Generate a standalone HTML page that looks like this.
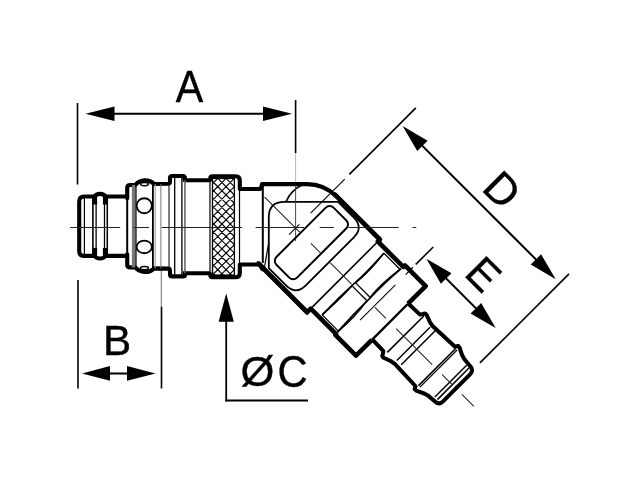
<!DOCTYPE html>
<html><head><meta charset="utf-8"><style>html,body{margin:0;padding:0;background:#fff;}svg{display:block} text{-webkit-font-smoothing:antialiased}</style></head>
<body><svg style="will-change:transform" width="640" height="480" viewBox="0 0 640 480">
<rect width="640" height="480" fill="#fff"/>
<line x1="77.5" y1="103" x2="77.5" y2="184.5" stroke="#000" stroke-width="1.6"/>
<line x1="295.6" y1="100" x2="295.6" y2="153" stroke="#000" stroke-width="1.6"/>
<line x1="95" y1="113.8" x2="282" y2="113.8" stroke="#000" stroke-width="2"/>
<path d="M85.50,113.80 L114.50,121.10 L114.50,106.50 Z" fill="#000"/>
<path d="M292.00,113.80 L263.00,106.50 L263.00,121.10 Z" fill="#000"/>
<text transform="translate(175.8,101.9) scale(0.935,0.995)" font-family="Liberation Sans" font-size="44" stroke="#000" stroke-width="0.4">A</text>
<line x1="78" y1="280" x2="78" y2="388.5" stroke="#000" stroke-width="1.6"/>
<line x1="161.5" y1="306.5" x2="161.5" y2="388.5" stroke="#000" stroke-width="1.6"/>
<line x1="161.3" y1="268" x2="161.3" y2="306" stroke="#444" stroke-width="0.8"/>
<line x1="95" y1="373.4" x2="140" y2="373.4" stroke="#000" stroke-width="2"/>
<path d="M82.00,373.40 L110.00,380.70 L110.00,366.10 Z" fill="#000"/>
<path d="M155.50,373.40 L127.00,366.10 L127.00,380.70 Z" fill="#000"/>
<text transform="translate(102.9,355.0) scale(0.96,0.97)" font-family="Liberation Sans" font-size="44" stroke="#000" stroke-width="0.4">B</text>
<line x1="226.2" y1="310" x2="226.2" y2="401.4" stroke="#000" stroke-width="1.8"/>
<line x1="225.3" y1="400.5" x2="308" y2="400.5" stroke="#000" stroke-width="1.8"/>
<path d="M226.20,293.40 L218.60,321.80 L233.80,321.80 Z" fill="#000"/>
<text transform="translate(240.5,386.3) scale(0.99,0.965)" font-family="Liberation Sans" font-size="44" stroke="#000" stroke-width="0.4">Ø</text>
<text transform="translate(277.6,386.9) scale(0.95,1)" font-family="Liberation Sans" font-size="44" stroke="#000" stroke-width="0.4">C</text>
<path d="M79.2,226.2 L79.2,201.5 Q79.2,196.5 84.2,196.5 L94.5,196.5 M106,196.5 L127.2,196.5" fill="none" stroke="#000" stroke-width="4.1" stroke-linejoin="round" stroke-linecap="round"/>
<g transform="matrix(1,0,0,-1,0,452.4)"><path d="M79.2,226.2 L79.2,201.5 Q79.2,196.5 84.2,196.5 L94.5,196.5 M106,196.5 L127.2,196.5" fill="none" stroke="#000" stroke-width="4.1" stroke-linejoin="round" stroke-linecap="round"/></g>
<path d="M127.2,198.2 L127.2,188 Q127.2,185 130.2,185 L135.3,185 A13,13 0 0 1 154.2,184 L168,183.8 Q170,183.8 170,181.5 L170,178 Q170,176 172,176 L183,176 Q184.7,176 184.7,178 L184.7,179.5" fill="none" stroke="#000" stroke-width="4.1" stroke-linejoin="round" stroke-linecap="round"/>
<g transform="matrix(1,0,0,-1,0,452.4)"><path d="M127.2,198.2 L127.2,188 Q127.2,185 130.2,185 L135.3,185 A13,13 0 0 1 154.2,184 L168,183.8 Q170,183.8 170,181.5 L170,178 Q170,176 172,176 L183,176 Q184.7,176 184.7,178 L184.7,179.5" fill="none" stroke="#000" stroke-width="4.1" stroke-linejoin="round" stroke-linecap="round"/></g>
<path d="M184.7,177.5 L184.7,180.3 L208.5,180.3 Q210.3,180.3 210.3,178.4 Q210.3,176.3 212.4,176.3 L235.5,176.3 Q239.8,176.3 239.8,180.6 L239.8,189 L259,189 Q260.8,189 261.2,187 Q261.8,184.1 264,184.1" fill="none" stroke="#000" stroke-width="4.1" stroke-linejoin="round" stroke-linecap="round"/>
<g transform="matrix(1,0,0,-1,0,453.5)"><path d="M184.7,177.5 L184.7,180.3 L208.5,180.3 Q210.3,180.3 210.3,178.4 Q210.3,176.3 212.4,176.3 L235.5,176.3 Q239.8,176.3 239.8,180.6 L239.8,189 L259,189 Q260.8,189 261.2,187 Q261.8,184.1 264,184.1" fill="none" stroke="#000" stroke-width="4.1" stroke-linejoin="round" stroke-linecap="round"/></g>
<path d="M94.6,196.5 Q96,193.9 100,193.9 Q104,193.9 105.4,196.5" fill="none" stroke="#000" stroke-width="4.1" stroke-linejoin="round" stroke-linecap="round"/>
<path d="M94.6,255.89999999999998 Q96,258.5 100,258.5 Q104,258.5 105.4,255.89999999999998" fill="none" stroke="#000" stroke-width="4.1" stroke-linejoin="round" stroke-linecap="round"/>
<line x1="94.8" y1="197" x2="94.8" y2="204.5" stroke="#000" stroke-width="4.6"/>
<line x1="94.8" y1="255.39999999999998" x2="94.8" y2="247.89999999999998" stroke="#000" stroke-width="4.6"/>
<line x1="105.2" y1="197" x2="105.2" y2="204.5" stroke="#000" stroke-width="4.6"/>
<line x1="105.2" y1="255.39999999999998" x2="105.2" y2="247.89999999999998" stroke="#000" stroke-width="4.6"/>
<line x1="84.4" y1="198" x2="84.4" y2="254.39999999999998" stroke="#000" stroke-width="1.2"/>
<line x1="92.9" y1="198" x2="92.9" y2="254.39999999999998" stroke="#000" stroke-width="1.6"/>
<line x1="96.1" y1="198" x2="96.1" y2="254.39999999999998" stroke="#000" stroke-width="1.3"/>
<line x1="104.5" y1="198" x2="104.5" y2="254.39999999999998" stroke="#000" stroke-width="1.3"/>
<line x1="107.3" y1="198" x2="107.3" y2="254.39999999999998" stroke="#000" stroke-width="1.5"/>
<line x1="127.2" y1="196" x2="127.2" y2="256.4" stroke="#000" stroke-width="2"/>
<rect x="131.9" y="185" width="3.7" height="82.39999999999998" fill="#777"/>
<line x1="136.0" y1="185" x2="136.0" y2="267.4" stroke="#000" stroke-width="1.2"/>
<line x1="152.9" y1="183.8" x2="152.9" y2="268.59999999999997" stroke="#000" stroke-width="1.8"/>
<line x1="169" y1="183.8" x2="169" y2="268.59999999999997" stroke="#000" stroke-width="1.0"/>
<line x1="174.7" y1="176" x2="174.7" y2="276.4" stroke="#000" stroke-width="1.3"/>
<line x1="181.9" y1="176" x2="181.9" y2="276.4" stroke="#000" stroke-width="1.3"/>
<line x1="184.9" y1="180.3" x2="184.9" y2="273.2" stroke="#000" stroke-width="1.0"/>
<line x1="210" y1="180.3" x2="210" y2="273.2" stroke="#000" stroke-width="1.2"/>
<line x1="212.5" y1="176.3" x2="212.5" y2="277.2" stroke="#000" stroke-width="1.3"/>
<line x1="234.4" y1="176.3" x2="234.4" y2="277.2" stroke="#000" stroke-width="1.3"/>
<line x1="239.5" y1="178.5" x2="239.5" y2="275.0" stroke="#000" stroke-width="1.2"/>
<line x1="160.9" y1="184" x2="160.9" y2="268.4" stroke="#777" stroke-width="1"/>
<line x1="155.2" y1="184" x2="155.2" y2="268.4" stroke="#999" stroke-width="1"/>
<line x1="184.9" y1="180.3" x2="184.9" y2="273.2" stroke="#888" stroke-width="1.2"/>
<ellipse cx="144.25" cy="205.75" rx="7.6" ry="7.5" fill="#fff" stroke="#000" stroke-width="1.8"/>
<ellipse cx="144.25" cy="246.9" rx="7.6" ry="6.35" fill="#fff" stroke="#000" stroke-width="1.8"/>
<ellipse cx="144.5" cy="184.1" rx="4" ry="1.6" fill="none" stroke="#000" stroke-width="1.4"/>
<ellipse cx="144.5" cy="268.09999999999997" rx="4" ry="1.6" fill="none" stroke="#000" stroke-width="1.4"/>
<clipPath id="kc"><rect x="212.6" y="177.5" width="21.7" height="98.5"/></clipPath>
<g clip-path="url(#kc)"><path d="M23.400000000000006,150 L173.4,300 M88.39999999999998,150 L-61.60000000000002,300 M31.69999999999999,150 L181.7,300 M96.69999999999996,150 L-53.30000000000004,300 M40.0,150 L190.0,300 M104.99999999999997,150 L-45.00000000000003,300 M48.29999999999998,150 L198.29999999999998,300 M113.29999999999995,150 L-36.700000000000045,300 M56.599999999999994,150 L206.6,300 M121.59999999999997,150 L-28.400000000000034,300 M64.89999999999998,150 L214.89999999999998,300 M129.89999999999998,150 L-20.100000000000023,300 M73.19999999999999,150 L223.2,300 M138.19999999999993,150 L-11.800000000000068,300 M81.5,150 L231.5,300 M146.5,150 L-3.5,300 M89.79999999999998,150 L239.79999999999998,300 M154.79999999999995,150 L4.7999999999999545,300 M98.1,150 L248.1,300 M163.09999999999997,150 L13.099999999999966,300 M106.4,150 L256.4,300 M171.39999999999998,150 L21.399999999999977,300 M114.69999999999999,150 L264.7,300 M179.7,150 L29.69999999999999,300 M123.0,150 L273.0,300 M188.0,150 L38.0,300 M131.29999999999998,150 L281.3,300 M196.29999999999995,150 L46.299999999999955,300 M139.6,150 L289.6,300 M204.59999999999997,150 L54.599999999999966,300 M147.9,150 L297.9,300 M212.89999999999998,150 L62.89999999999998,300 M156.2,150 L306.2,300 M221.2,150 L71.19999999999999,300 M164.5,150 L314.5,300 M229.5,150 L79.5,300 M172.8,150 L322.8,300 M237.79999999999995,150 L87.79999999999995,300 M181.1,150 L331.1,300 M246.09999999999997,150 L96.09999999999997,300 M189.4,150 L339.4,300 M254.39999999999998,150 L104.39999999999998,300 M197.7,150 L347.7,300 M262.7,150 L112.69999999999999,300 M206.0,150 L356.0,300 M271.0,150 L121.0,300 M214.3,150 L364.3,300 M279.29999999999995,150 L129.29999999999995,300 M222.6,150 L372.6,300 M287.59999999999997,150 L137.59999999999997,300 M230.9,150 L380.9,300 M295.9,150 L145.89999999999998,300 M239.2,150 L389.2,300 M304.2,150 L154.2,300 M247.5,150 L397.5,300 M312.5,150 L162.5,300 M255.8,150 L405.8,300 M320.79999999999995,150 L170.79999999999995,300 M264.1,150 L414.1,300 M329.09999999999997,150 L179.09999999999997,300 M272.4,150 L422.4,300 M337.4,150 L187.39999999999998,300 M280.70000000000005,150 L430.70000000000005,300 M345.7,150 L195.7,300 M289.0,150 L439.0,300 M354.0,150 L204.0,300 M297.3,150 L447.3,300 M362.29999999999995,150 L212.29999999999995,300 M305.6,150 L455.6,300 M370.6,150 L220.60000000000002,300 M313.9,150 L463.9,300 M378.9,150 L228.89999999999998,300 M322.20000000000005,150 L472.20000000000005,300 M387.20000000000005,150 L237.20000000000005,300 M330.5,150 L480.5,300 M395.5,150 L245.5,300 M338.8,150 L488.8,300 M403.79999999999995,150 L253.79999999999995,300 M347.1,150 L497.1,300 M412.1,150 L262.1,300" stroke="#000" stroke-width="1.15" fill="none"/></g>
<line x1="212.5" y1="178.3" x2="234.4" y2="178.3" stroke="#000" stroke-width="1.6"/>
<line x1="212.5" y1="275.2" x2="234.4" y2="275.2" stroke="#000" stroke-width="1.6"/>
<path d="M262,184.1 L307,184.1 A41.3,41.3 0 0 1 336.2,196.2" fill="none" stroke="#000" stroke-width="4.1" stroke-linejoin="round" stroke-linecap="round"/>
<path d="M335.2,194.9 L379.85,239.52" fill="none" stroke="#000" stroke-width="4.8" stroke-linejoin="round" stroke-linecap="round"/>
<path d="M258.5,263.5 L307.16,312.21" fill="none" stroke="#000" stroke-width="4.8" stroke-linejoin="round" stroke-linecap="round"/>
<line x1="262.8" y1="185" x2="262.8" y2="263" stroke="#000" stroke-width="2"/>
<path d="M268.80,268.19 L268.8,217 Q268.8,201.8 284.3,201.8 L338.03,201.80 L353.83,217.60 Q363.73,227.50 353.83,237.40 L305.82,285.41 Q295.92,295.31 286.02,285.41 Z" fill="none" stroke="#000" stroke-width="1.8" stroke-linejoin="round"/>
<path d="M268.8,242.5 L264.4,267.5" stroke="#000" stroke-width="1.2" fill="none"/>
<path d="M286.2,201.3 Q291.5,190 301.5,185.3" stroke="#000" stroke-width="1.6" fill="none"/>
<path d="M70.2,227.5 L120.2,227.5 M133.4,227.5 L149,227.5 M161.7,227.5 L242.2,227.5 M255.6,227.5 L304,227.5 M319.7,227.5 L334,227.5 M348.7,227.5 L398.7,227.5 M412.5,227.5 L416.3,227.5" stroke="#222" stroke-width="1" fill="none"/>
<path d="M295.6,153 L295.6,182" stroke="#999" stroke-width="0.7" fill="none"/>
<path d="M295.6,185 L295.6,241" stroke="#333" stroke-width="0.9" fill="none"/>
<g transform="translate(295.0,227.5) rotate(45)">
<line x1="0.9" y1="-170" x2="0.9" y2="-76" stroke="#000" stroke-width="1.6"/>
<line x1="0.9" y1="-69.4" x2="0.9" y2="-21.2" stroke="#000" stroke-width="1.1"/>
<line x1="0.9" y1="-5.3" x2="0.9" y2="9.3" stroke="#000" stroke-width="1.1"/>
<line x1="226.5" y1="-35" x2="226.5" y2="-161" stroke="#000" stroke-width="1.6"/>
<line x1="15" y1="-147.8" x2="210" y2="-147.8" stroke="#000" stroke-width="2"/>
<path d="M4.4,-147.8 L32.4,-140.5 L32.4,-155.1 Z" fill="#000"/>
<path d="M220.9,-147.8 L192.9,-140.5 L192.9,-155.1 Z" fill="#000"/>
<text transform="translate(104.4,-158.1) scale(0.98,0.99)" font-family="Liberation Sans" font-size="44" stroke="#000" stroke-width="0.4">D</text>
<line x1="111.5" y1="-59.3" x2="111.5" y2="-84" stroke="#000" stroke-width="1.6"/>
<line x1="111.5" y1="-45" x2="111.5" y2="-55.3" stroke="#000" stroke-width="1.1"/>
<line x1="111.5" y1="-30.5" x2="111.5" y2="19.5" stroke="#000" stroke-width="1"/>
<line x1="125" y1="-70.8" x2="200" y2="-70.8" stroke="#000" stroke-width="2"/>
<path d="M115,-70.8 L143,-63.3 L143,-78.3 Z" fill="#000"/>
<path d="M213,-70.8 L185,-63.3 L185,-78.3 Z" fill="#000"/>
<text transform="translate(152.2,-85.5) scale(0.96,0.98)" font-family="Liberation Sans" font-size="44" stroke="#000" stroke-width="0.4">E</text>
<rect x="7.7" y="-41.3" width="29.2" height="80.8" rx="5.5" fill="none" stroke="#000" stroke-width="2"/>
<path d="M68.5,-51.5 L68.5,-48.7 L104.5,-48.7 L104.5,-51 L133.8,-51 L133.8,-26" fill="none" stroke="#000" stroke-width="4.6" stroke-linejoin="round"/>
<path d="M68.5,51.3 L68.5,46.2 L104.5,46.2 L104.5,47.5 L133.8,47.5 L133.8,25" fill="none" stroke="#000" stroke-width="4.6" stroke-linejoin="round"/>
<line x1="133.8" y1="-26" x2="133.8" y2="25" stroke="#000" stroke-width="2.4"/>
<line x1="68.5" y1="-48" x2="68.5" y2="45.5" stroke="#000" stroke-width="1.6"/>
<path d="M81,-45 Q82.5,-20 81.5,-2 Q80.5,20 81,42.5" fill="none" stroke="#000" stroke-width="1.6"/>
<path d="M104,-46 Q102,-20 103,-2 Q102.5,20 104,44" fill="none" stroke="#000" stroke-width="1.8"/>
<path d="M81,-44.7 Q84,-22 82,-3.7 M81,42.6 Q82.6,20 81.6,0.9 M104,-44.7 Q100.5,-22 102.5,-3.7 M104,42.6 Q106,20 102.5,0.9" fill="none" stroke="#000" stroke-width="1.4"/>
<line x1="81" y1="-44.7" x2="104" y2="-44.7" stroke="#000" stroke-width="1.3"/>
<line x1="81" y1="42.6" x2="104" y2="42.6" stroke="#000" stroke-width="1.3"/>
<line x1="82" y1="-3.7" x2="102" y2="-3.7" stroke="#000" stroke-width="1.3"/>
<line x1="82" y1="0.9" x2="102" y2="0.9" stroke="#000" stroke-width="1.3"/>
<path d="M133.8,-26.3 L150,-26.8 L151.5,-29 Q152.5,-31.8 154.8,-31.3 Q158,-30.2 162,-28.6 L167,-27.6 L197.5,-28.8 L199,-31.6 Q201.5,-31.8 203.5,-30.3 Q208.5,-27.5 213,-26.6 L222,-25.8 Q227.6,-25.6 227.6,-20 L227.6,0" fill="none" stroke="#000" stroke-width="4" stroke-linejoin="round"/>
<g transform="translate(0,-1.8) scale(1,-1)"><path d="M133.8,-26.3 L150,-26.8 L151.5,-29 Q152.5,-31.8 154.8,-31.3 Q158,-30.2 162,-28.6 L167,-27.6 L197.5,-28.8 L199,-31.6 Q201.5,-31.8 203.5,-30.3 Q208.5,-27.5 213,-26.6 L222,-25.8 Q227.6,-25.6 227.6,-20 L227.6,0" fill="none" stroke="#000" stroke-width="4" stroke-linejoin="round"/></g>
<line x1="153.6" y1="-28.5" x2="153.6" y2="23" stroke="#000" stroke-width="1.6"/>
<line x1="166" y1="-25" x2="166" y2="22" stroke="#000" stroke-width="1.5"/>
<line x1="172.2" y1="-26.5" x2="172.2" y2="22" stroke="#000" stroke-width="1.5"/>
<line x1="199.2" y1="-28" x2="199.2" y2="24.5" stroke="#000" stroke-width="1.6"/>
<line x1="201.2" y1="-28" x2="201.2" y2="24.5" stroke="#000" stroke-width="1.3"/>
<line x1="218.8" y1="-24" x2="218.8" y2="21" stroke="#000" stroke-width="1.5"/>
<line x1="222.4" y1="-24" x2="222.4" y2="21" stroke="#000" stroke-width="1.5"/>
<path d="M-43,0 L7,0 M22.5,0 L37.1,0 M50,0 L80,0 M113,0 L128.6,0 M143,0 L194,0 M208,0 L222,0 M236,0 L253,0" stroke="#222" stroke-width="1" fill="none"/>
</g>
</svg></body></html>
